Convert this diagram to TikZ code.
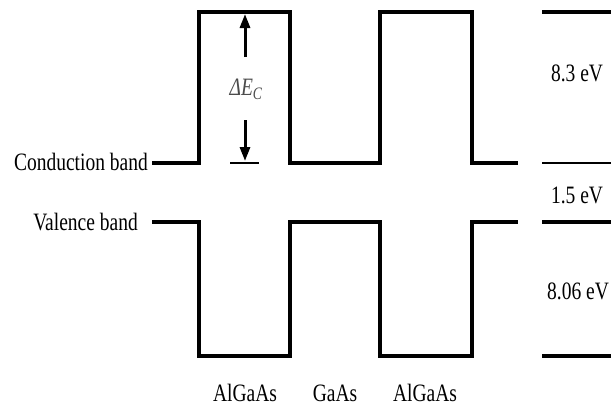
\documentclass[tikz,border=0pt]{standalone}
\usepackage{fontspec}
\setmainfont{Liberation Serif}
\usetikzlibrary{arrows.meta}
\newcommand\squeezetext[1]{\scalebox{0.78}[1]{#1}}
\begin{document}
\begin{tikzpicture}[x=1pt,y=-1pt,
  band/.style={line width=3.4pt, line join=miter, line cap=butt},
  lvl/.style={line width=3.2pt},
  thinlvl/.style={line width=1.5pt},
  lbl/.style={font=\fontsize{25}{25}\selectfont, inner sep=0pt},
  dimarrow/.style={line width=3pt, -{Triangle[length=14pt,width=10pt]}}]
\useasboundingbox (0,0) rectangle (611,408);
% band profile corners
\coordinate (c0) at (152,163);
\coordinate (c1) at (199,163);
\coordinate (c2) at (199,12);
\coordinate (c3) at (290,12);
\coordinate (c4) at (290,163);
\coordinate (c5) at (380,163);
\coordinate (c6) at (380,12);
\coordinate (c7) at (472,12);
\coordinate (c8) at (472,163);
\coordinate (c9) at (518,163);
\coordinate (v0) at (152,222);
\coordinate (v1) at (199,222);
\coordinate (v2) at (199,356);
\coordinate (v3) at (290,356);
\coordinate (v4) at (290,222);
\coordinate (v5) at (380,222);
\coordinate (v6) at (380,356);
\coordinate (v7) at (472,356);
\coordinate (v8) at (472,222);
\coordinate (v9) at (518,222);
\draw[band] (c0) -- (c1) -- (c2) -- (c3) -- (c4) -- (c5) -- (c6) -- (c7) -- (c8) -- (c9);
\draw[band] (v0) -- (v1) -- (v2) -- (v3) -- (v4) -- (v5) -- (v6) -- (v7) -- (v8) -- (v9);
% right-hand scale
\coordinate (r1a) at (542,12);  \coordinate (r1b) at (611,12);
\coordinate (r2a) at (542,163); \coordinate (r2b) at (611,163);
\coordinate (r3a) at (542,222); \coordinate (r3b) at (611,222);
\coordinate (r4a) at (542,356); \coordinate (r4b) at (611,356);
\draw[lvl] (r1a) -- (r1b);
\draw[thinlvl] (r2a) -- (r2b);
\draw[lvl] (r3a) -- (r3b);
\draw[lvl] (r4a) -- (r4b);
\node[lbl] (e1) at (577,73) {\squeezetext{8.3 eV}};
\node[lbl] (e2) at (577,195) {\squeezetext{1.5 eV}};
\node[lbl] (e3) at (578,291) {\squeezetext{8.06 eV}};
% left labels
\node[lbl, anchor=east] (cb) at (148,162) {\squeezetext{Conduction band}};
\node[lbl, anchor=east] (vb) at (138,222) {\squeezetext{Valence band}};
% bottom labels
\node[lbl] (m1) at (245,393) {\squeezetext{AlGaAs}};
\node[lbl] (m2) at (335,393) {\squeezetext{GaAs}};
\node[lbl] (m3) at (425,393) {\squeezetext{AlGaAs}};
% Delta E_C
\node[lbl, text=black!70] (de) at (246,89) {\squeezetext{\itshape ΔE\textsubscript{C}}};
\coordinate (upA) at (245,57);
\coordinate (upB) at (245,14);
\coordinate (dnA) at (245,120);
\coordinate (dnB) at (245,161);
\coordinate (tkA) at (230,163);
\coordinate (tkB) at (259,163);
\draw[dimarrow] (upA) -- (upB);
\draw[dimarrow] (dnA) -- (dnB);
\draw[line width=1.3pt] (tkA) -- (tkB);
\end{tikzpicture}
\end{document}
